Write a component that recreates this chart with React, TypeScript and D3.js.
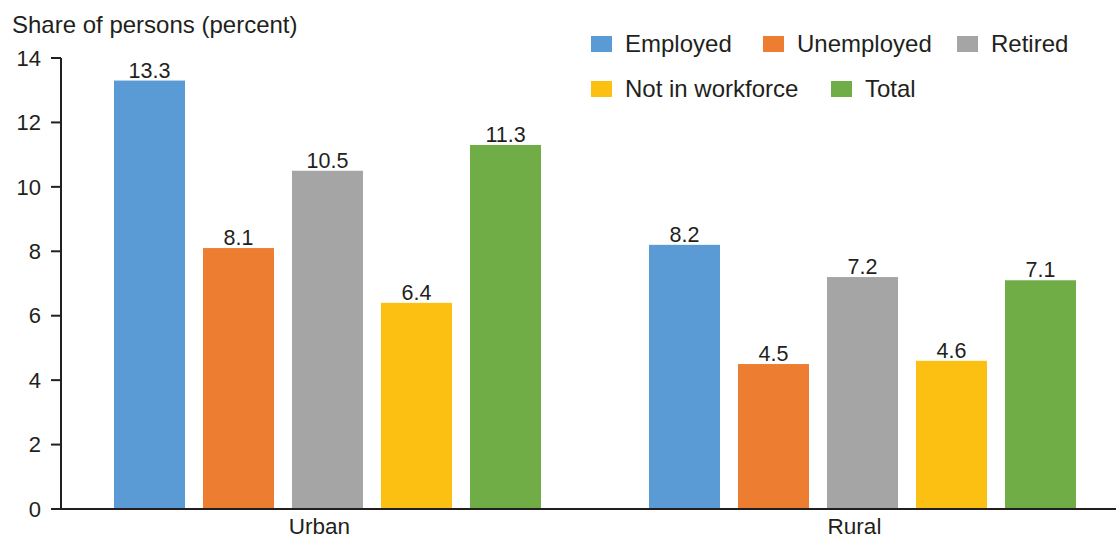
import React from "react";
import * as d3 from "d3";

const categories = ["Urban", "Rural"];
const seriesNames = ["Employed", "Unemployed", "Retired", "Not in workforce", "Total"];
const seriesColors = ["#5B9BD5", "#ED7D31", "#A5A5A5", "#FCC012", "#70AD47"];
const urbanValues = [13.3, 8.1, 10.5, 6.4, 11.3];
const ruralValues = [8.2, 4.5, 7.2, 4.6, 7.1];
const yTicks = [0, 2, 4, 6, 8, 10, 12, 14];
const yTitle = "Share of persons (percent)";

const W = 1116;
const H = 540;
const FONT = "'Liberation Sans', Arial, Helvetica, sans-serif";
const TXT = "#231f20";

export default function App() {
  const values = [urbanValues, ruralValues];
  const y = d3.scaleLinear().domain([0, 14]).range([509, 58]);
  const x0 = d3.scaleBand<string>().domain(categories).range([52, 1122]);
  const x1 = d3
    .scaleBand<string>()
    .domain(seriesNames)
    .range([62, 489])
    .paddingInner(18 / 89)
    .paddingOuter(0);
  const axisX = 61;

  const legendPos = [
    { sx: 591, ty: 52 },
    { sx: 763, ty: 52 },
    { sx: 957, ty: 52 },
    { sx: 591, ty: 97 },
    { sx: 831, ty: 97 },
  ];

  return (
    <svg
      width={W}
      height={H}
      style={{ position: "absolute", left: 0, top: 0, background: "#fff" }}
      fontFamily={FONT}
    >
      <text x={12} y={33} fontSize={24} fill={TXT}>
        {yTitle}
      </text>
      {/* bars */}
      {categories.map((c, ci) => (
        <g key={c} transform={`translate(${x0(c)},0)`}>
          {seriesNames.map((s, si) => {
            const v = values[ci][si];
            const bx = x1(s)!;
            return (
              <g key={s}>
                <rect
                  x={bx}
                  y={y(v)}
                  width={x1.bandwidth()}
                  height={y(0) - y(v)}
                  fill={seriesColors[si]}
                />
                <text
                  x={bx + x1.bandwidth() / 2}
                  y={y(v) - 3}
                  textAnchor="middle"
                  fontSize={21.5}
                  fill={TXT}
                >
                  {v.toFixed(1)}
                </text>
              </g>
            );
          })}
          <text
            x={x0.bandwidth() / 2}
            y={534}
            textAnchor="middle"
            fontSize={22.5}
            fill={TXT}
          >
            {c}
          </text>
        </g>
      ))}
      {/* y axis */}
      <line x1={axisX} x2={axisX} y1={y(14)} y2={y(0)} stroke="#231f20" strokeWidth={2} />
      {yTicks.map((t) => (
        <g key={t}>
          <line x1={axisX - 10} x2={axisX} y1={y(t)} y2={y(t)} stroke="#231f20" strokeWidth={2} />
          <text
            x={axisX - 20}
            y={y(t)}
            dy="0.35em"
            textAnchor="end"
            fontSize={22}
            fill={TXT}
          >
            {t}
          </text>
        </g>
      ))}
      {/* x axis */}
      <line x1={axisX - 10} x2={W} y1={y(0)} y2={y(0)} stroke="#231f20" strokeWidth={2} />
      {/* legend */}
      {seriesNames.map((s, i) => (
        <g key={s}>
          <rect x={legendPos[i].sx} y={legendPos[i].ty - 16} width={21} height={16} fill={seriesColors[i]} />
          <text x={legendPos[i].sx + 34} y={legendPos[i].ty} fontSize={24} fill={TXT}>
            {s}
          </text>
        </g>
      ))}
    </svg>
  );
}
